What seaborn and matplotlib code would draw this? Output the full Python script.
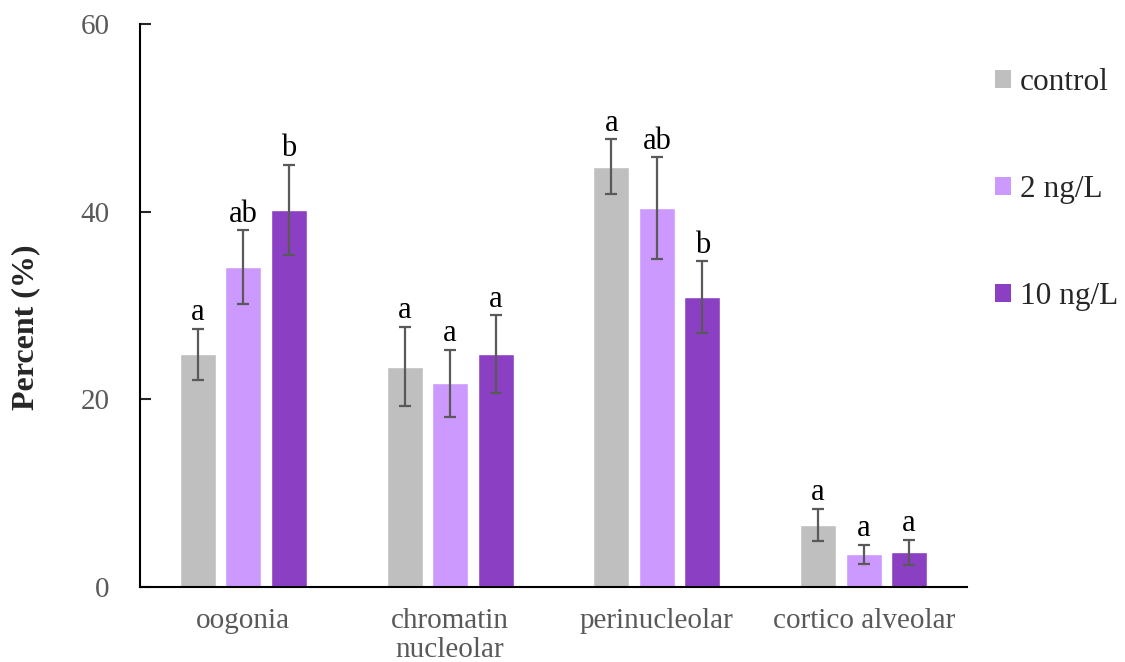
import numpy as np
import pandas as pd
import seaborn as sns
import matplotlib.pyplot as plt
from matplotlib.patches import Patch

stages = ["oogonia", "chromatin\nnucleolar", "perinucleolar", "cortico alveolar"]
groups = ["control", "2 ng/L", "10 ng/L"]

control = [24.8, 23.5, 44.8, 6.6]
ng2 = [34.1, 21.7, 40.4, 3.5]
ng10 = [40.2, 24.8, 30.9, 3.7]

control_err = [2.75, 4.25, 2.95, 1.75]
ng2_err = [3.9, 3.6, 5.4, 1.0]
ng10_err = [4.8, 4.15, 3.85, 1.35]

control_sig = ["a", "a", "a", "a"]
ng2_sig = ["ab", "a", "ab", "a"]
ng10_sig = ["b", "a", "b", "a"]

colors = ["#BFBFBF", "#CC99FF", "#8B40C3"]

df = pd.DataFrame({
    "stage": stages * 3,
    "group": [g for g in groups for _ in stages],
    "value": control + ng2 + ng10,
})
errs = [control_err, ng2_err, ng10_err]
sigs = [control_sig, ng2_sig, ng10_sig]

sns.set_style("white")
plt.rcParams["font.family"] = ["Liberation Serif", "DejaVu Serif"]

fig = plt.figure(figsize=(11.25, 6.62), dpi=100)
ax = fig.add_axes([0.1244, 0.1133, 0.7352, 0.8504])

sns.barplot(data=df, x="stage", y="value", hue="group", order=stages,
            hue_order=groups, palette=colors, width=0.66, gap=0.21,
            errorbar=None, legend=False, ax=ax, saturation=1)

for cont, err, sig in zip(ax.containers, errs, sigs):
    xs = [p.get_x() + p.get_width() / 2 for p in cont.patches]
    ys = [p.get_height() for p in cont.patches]
    ax.errorbar(xs, ys, yerr=err, fmt="none", ecolor="#595959",
                elinewidth=1.6, capsize=4.5, capthick=1.6)
    for x, y, e, s in zip(xs, ys, err, sig):
        ax.annotate(s, (x, y + e), xytext=(0, 6), textcoords="offset points",
                    ha="center", va="baseline", fontsize=22, color="black")

ax.set_ylim(0, 60)
ax.set_xlim(-0.5, 3.5)
ax.set_yticks([0, 20, 40, 60])
ax.set_xlabel("")
ax.set_ylabel("Percent (%)", fontsize=23, fontweight="bold")
ax.yaxis.set_label_coords(-0.121, 0.462)
ax.tick_params(axis="y", direction="in", length=8, width=1.5, pad=22,
               labelsize=21, labelcolor="#595959", left=True)
ax.tick_params(axis="x", length=0, pad=15, labelsize=21, labelcolor="#595959")
for lab in ax.get_xticklabels():
    lab.set_linespacing(1.15)

sns.despine(ax=ax)
for side in ["left", "bottom"]:
    ax.spines[side].set_color("black")
    ax.spines[side].set_linewidth(1.5)

handles = [Patch(facecolor=c, edgecolor="none") for c in colors]
fig.legend(handles, groups, loc="upper left", bbox_to_anchor=(0.8595, 0.94),
           frameon=False, fontsize=22.5, handlelength=0.5, handleheight=0.5,
           handletextpad=0.3, labelspacing=2.5)

fig.savefig("out.png", dpi=100)
